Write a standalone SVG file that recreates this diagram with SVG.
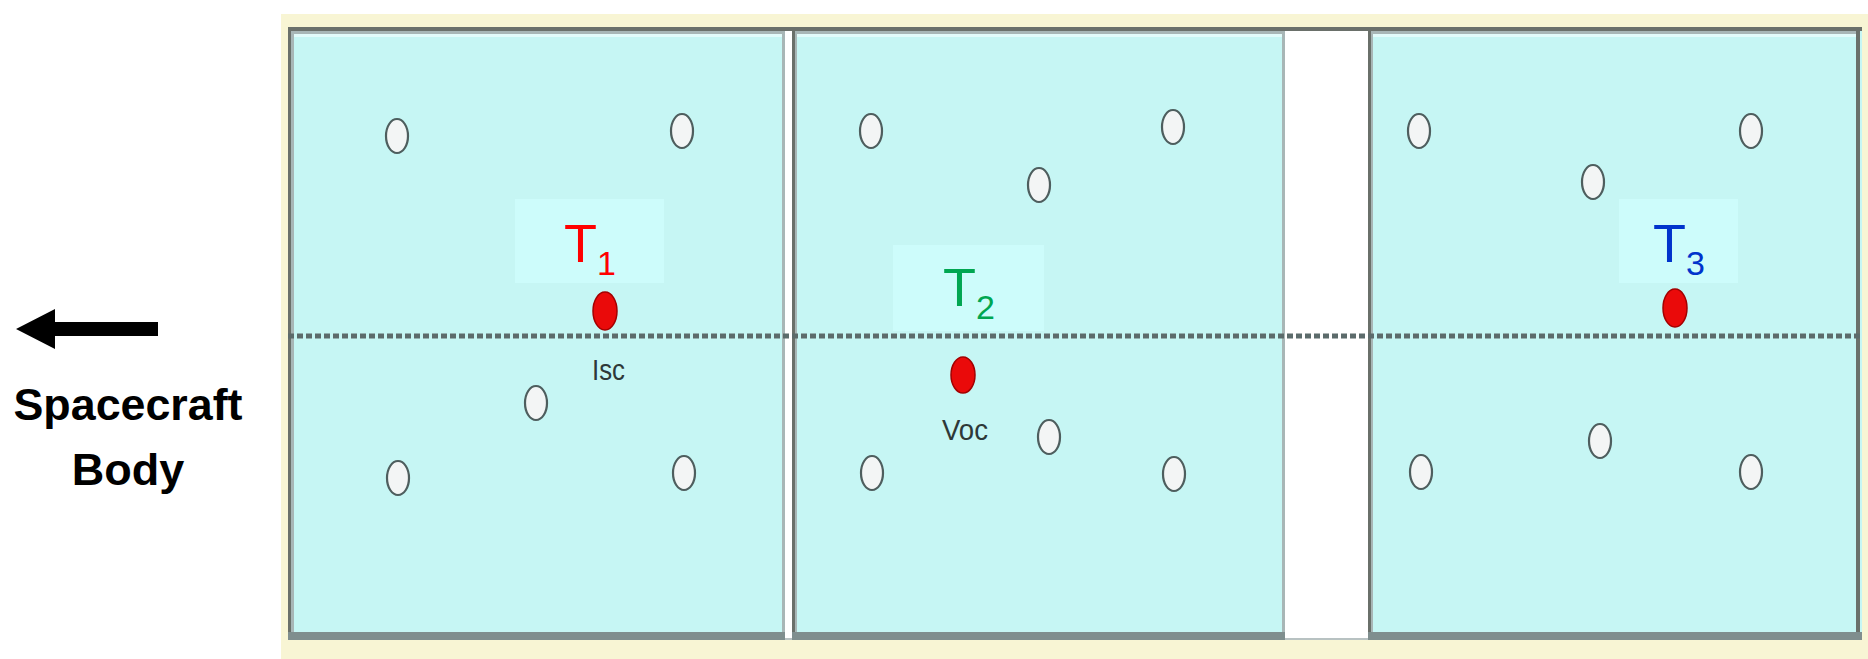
<svg xmlns="http://www.w3.org/2000/svg" width="1868" height="659" viewBox="0 0 1868 659">
<defs>
<style>
.panel{fill:#c6f6f4}
.lbl{fill:#cdfcfb}
.dot{fill:#f3f5f5;stroke:#4e5e5e;stroke-width:2.2}
.red{fill:#ea0a0a;stroke:#a30000;stroke-width:1.5}
.tl{font-family:"Liberation Sans",Arial,sans-serif;font-size:54px}
.sub{font-size:34px}
.small{font-family:"Liberation Sans",Arial,sans-serif;font-size:30px;fill:#2e3838}
.body{font-family:"Liberation Sans",Arial,sans-serif;font-size:45px;font-weight:bold;fill:#000;text-anchor:middle}
.dk{fill:#6a706a}
.lg{fill:#a8b6b6}
.bt{fill:#7f8e8e}
</style>
</defs>
<rect x="0" y="0" width="1868" height="659" fill="#ffffff"/>
<!-- frame -->
<g id="frame">
<rect x="281" y="14" width="1587" height="645" fill="#f8f5d4"/>
<rect x="288" y="27" width="1574" height="613" fill="#ffffff"/>
<rect x="288" y="27" width="1574" height="4" class="dk"/>
<rect x="288" y="638" width="1574" height="2" fill="#b8c2c2"/>
</g>
<!-- panels -->
<g id="panel1">
<rect x="288" y="27" width="497" height="613" class="panel"/>
<rect x="288" y="27" width="497" height="4" class="dk"/>
<rect x="292" y="31" width="493" height="3" class="lg"/>
<rect x="293" y="34" width="490" height="3" fill="#e2fbfa"/>
<rect x="288" y="27" width="3" height="613" class="dk"/>
<rect x="291" y="31" width="3" height="605" class="lg"/>
<rect x="782" y="31" width="3" height="609" class="lg"/>
<rect x="288" y="632" width="497" height="8" class="bt"/>
</g>
<g id="panel2">
<rect x="792" y="27" width="493" height="613" class="panel"/>
<rect x="792" y="27" width="493" height="4" class="dk"/>
<rect x="795" y="31" width="490" height="3" class="lg"/>
<rect x="796" y="34" width="486" height="3" fill="#e2fbfa"/>
<rect x="792" y="27" width="3" height="613" class="dk"/>
<rect x="795" y="31" width="2" height="605" class="lg"/>
<rect x="1282" y="31" width="3" height="609" class="lg"/>
<rect x="792" y="632" width="493" height="8" class="bt"/>
</g>
<g id="panel3">
<rect x="1368" y="27" width="494" height="613" class="panel"/>
<rect x="1368" y="27" width="494" height="4" class="dk"/>
<rect x="1371" y="31" width="488" height="3" class="lg"/>
<rect x="1372" y="34" width="484" height="3" fill="#e2fbfa"/>
<rect x="1368" y="27" width="3" height="613" class="dk"/>
<rect x="1371" y="31" width="2" height="605" class="lg"/>
<rect x="1856" y="27" width="4" height="613" class="dk"/>
<rect x="1368" y="632" width="494" height="8" class="bt"/>
</g>
<!-- label backgrounds -->
<g id="labels-bg">
<rect x="515" y="199" width="149" height="84" class="lbl"/>
<rect x="893" y="245" width="151" height="86" class="lbl"/>
<rect x="1619" y="199" width="119" height="84" class="lbl"/>
</g>
<!-- connectors: dotted center line -->
<g id="connectors">
<line x1="288" y1="336" x2="1862" y2="336" stroke="#5c6b6b" stroke-width="5" stroke-dasharray="6 3"/>
</g>
<!-- white dots -->
<g id="dots">
<ellipse class="dot" cx="397" cy="136" rx="11" ry="17"/>
<ellipse class="dot" cx="682" cy="131" rx="11" ry="17"/>
<ellipse class="dot" cx="536" cy="403" rx="11" ry="17"/>
<ellipse class="dot" cx="398" cy="478" rx="11" ry="17"/>
<ellipse class="dot" cx="684" cy="473" rx="11" ry="17"/>
<ellipse class="dot" cx="871" cy="131" rx="11" ry="17"/>
<ellipse class="dot" cx="1173" cy="127" rx="11" ry="17"/>
<ellipse class="dot" cx="1039" cy="185" rx="11" ry="17"/>
<ellipse class="dot" cx="1049" cy="437" rx="11" ry="17"/>
<ellipse class="dot" cx="872" cy="473" rx="11" ry="17"/>
<ellipse class="dot" cx="1174" cy="474" rx="11" ry="17"/>
<ellipse class="dot" cx="1419" cy="131" rx="11" ry="17"/>
<ellipse class="dot" cx="1751" cy="131" rx="11" ry="17"/>
<ellipse class="dot" cx="1593" cy="182" rx="11" ry="17"/>
<ellipse class="dot" cx="1421" cy="472" rx="11" ry="17"/>
<ellipse class="dot" cx="1600" cy="441" rx="11" ry="17"/>
<ellipse class="dot" cx="1751" cy="472" rx="11" ry="17"/>
</g>
<!-- sensors -->
<g id="T1">
<ellipse class="red" cx="605" cy="311" rx="12" ry="19"/>
<text class="tl" x="564" y="262" fill="#ff0000">T<tspan class="sub" dy="13">1</tspan></text>
<text class="small" x="592" y="380" textLength="33" lengthAdjust="spacingAndGlyphs">Isc</text>
</g>
<g id="T2">
<ellipse class="red" cx="963" cy="375" rx="12" ry="18"/>
<text class="tl" x="943" y="306" fill="#00a651">T<tspan class="sub" dy="13">2</tspan></text>
<text class="small" x="942" y="440" textLength="46" lengthAdjust="spacingAndGlyphs">Voc</text>
</g>
<g id="T3">
<ellipse class="red" cx="1675" cy="308" rx="12" ry="19"/>
<text class="tl" x="1653" y="262" fill="#0033cc">T<tspan class="sub" dy="13">3</tspan></text>
</g>
<!-- arrow and body label -->
<g id="spacecraft">
<polygon points="16,329 55,309 55,322 158,322 158,336 55,336 55,349" fill="#000"/>
<text class="body" x="128" y="420" textLength="229" lengthAdjust="spacingAndGlyphs">Spacecraft</text>
<text class="body" x="128" y="485">Body</text>
</g>
</svg>
